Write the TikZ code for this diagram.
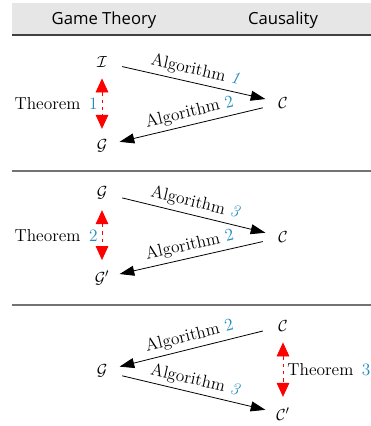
\documentclass[tikz,border=0pt]{standalone}
\usepackage{fontspec}
\newfontfamily\hdrfont{Open Sans}
\usetikzlibrary{arrows.meta}
\definecolor{refblue}{RGB}{30,140,190}
\definecolor{hdrgray}{RGB}{230,230,230}
\newcommand{\refnum}[1]{\textcolor{refblue}{#1}}

\begin{document}
\begin{tikzpicture}[x=0.75pt, y=-0.75pt,
      obj/.style={font=\fontsize{13}{15}\selectfont, minimum width=26pt, inner sep=3pt},
      lbl/.style={font=\fontsize{13}{15}\selectfont, sloped, above, midway, inner sep=3pt},
      thmlbl/.style={font=\fontsize{13}{15}\selectfont, text=black, midway, inner sep=3pt},
      arr/.style={-{Triangle[length=11pt, width=7.5pt]}, line width=0.6pt, shorten <=2pt},
      thm/.style={{Triangle[length=10.5pt, width=9.5pt]}-{Triangle[length=10.5pt, width=9.5pt]}, red, dash pattern=on 2.5pt off 3pt, line width=0.6pt, shorten <=5pt, shorten >=5pt},
      hdr/.style={font=\hdrfont\fontsize{12.5}{15}\selectfont},
      sep/.style={gray!90!black, line width=0.9pt}
    ]
      \useasboundingbox (0,0) rectangle (371,426);
      % header
      \fill[hdrgray] (12,3) rectangle (371,35);
      \draw[sep, gray!50!black] (12,35) -- (371,35);
      \node[hdr] (gt) at (104,20) {Game Theory};
      \node[hdr] (ca) at (283,20) {Causality};
      % first row
      \node[obj] (I1) at (102,62)  {$\mathcal{I}$};
      \node[obj] (C1) at (283,103) {$\mathcal{C}$};
      \node[obj] (G1) at (102,146) {$\mathcal{G}$};
      \draw[arr] (I1) -- node[lbl] {Algorithm \refnum{\textit{1}}} (C1);
      \draw[arr] (C1) -- node[lbl] {Algorithm \refnum{2}} (G1);
      \draw[thm] (I1) -- node[thmlbl, left] {Theorem\, \refnum{1}} (G1);
      \draw[sep] (12,171) -- (371,171);
      % second row
      \node[obj] (G2)  at (102,193) {$\mathcal{G}$};
      \node[obj] (C2)  at (283,237) {$\mathcal{C}$};
      \node[obj] (Gp2) at (102,278) {$\mathcal{G}'$};
      \draw[arr] (G2) -- node[lbl] {Algorithm \refnum{\textit{3}}} (C2);
      \draw[arr] (C2) -- node[lbl] {Algorithm \refnum{2}} (Gp2);
      \draw[thm] (G2) -- node[thmlbl, left] {Theorem\, \refnum{2}} (Gp2);
      \draw[sep] (12,305) -- (371,305);
      % third row
      \node[obj] (C3)  at (283,326) {$\mathcal{C}$};
      \node[obj] (G3)  at (102,371) {$\mathcal{G}$};
      \node[obj] (Cp3) at (283,414) {$\mathcal{C}'$};
      \draw[arr] (C3) -- node[lbl] {Algorithm \refnum{2}} (G3);
      \draw[arr] (G3) -- node[lbl] {Algorithm \refnum{\textit{3}}} (Cp3);
      \draw[thm] (C3) -- node[thmlbl, right] {Theorem\, \refnum{3}} (Cp3);
    \end{tikzpicture}
\end{document}
